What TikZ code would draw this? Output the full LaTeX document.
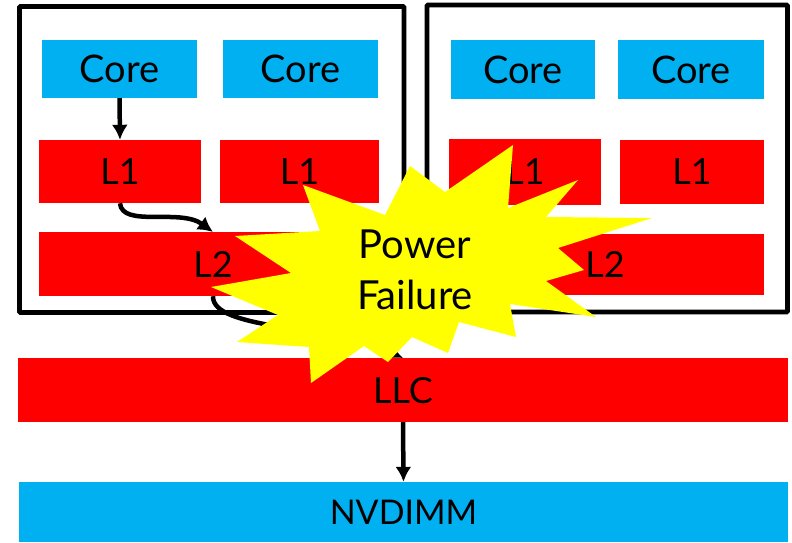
\documentclass[tikz,border=0pt]{standalone}
\usepackage{fontspec}
\setmainfont{Lato}
\usetikzlibrary{arrows.meta}

\begin{document}
\begin{tikzpicture}[x=1pt,y=-1pt,
corebox/.style={fill=cyan1,inner sep=0pt,text depth=0pt,font=\fontsize{38}{38}\selectfont},
cachebox/.style={fill=red,inner sep=0pt,text depth=0pt,font=\fontsize{36}{36}\selectfont},
chipbox/.style={line width=4.8pt,rounded corners=1pt},
flow/.style={line width=4.5pt,-{Latex[length=15pt,width=16pt]}}]

\definecolor{cyan1}{RGB}{0,176,240}
\definecolor{burst}{RGB}{255,255,0}

\useasboundingbox (0,0) rectangle (792,542);

\draw[chipbox] (19.5,6.5) rectangle (404,312.5);
\draw[chipbox] (427,5) rectangle (787.5,312);

\node[corebox,minimum width=155pt,minimum height=58pt] (core1) at (119.5,69) {Core};
\node[corebox,minimum width=155pt,minimum height=58pt] (core2) at (300.5,69) {Core};
\node[corebox,minimum width=144pt,minimum height=59pt] (core3) at (523,69.5) {Core};
\node[corebox,minimum width=146pt,minimum height=59pt] (core4) at (691,69.5) {Core};

\node[cachebox,minimum width=162pt,minimum height=63pt] (lonea) at (120,171.5) {L1};
\node[cachebox,minimum width=159pt,minimum height=63pt] (loneb) at (299.5,171.5) {L1};
\node[cachebox,minimum width=152pt,minimum height=66pt] (lonec) at (525,172) {L1};
\node[cachebox,minimum width=144pt,minimum height=64pt] (loned) at (692,172) {L1};

\node[cachebox,minimum width=348pt,minimum height=64pt] (ltwoa) at (213,264) {L2};
\node[cachebox,minimum width=318pt,minimum height=61pt] (ltwob) at (605,264.5) {L2};

\node[cachebox,minimum width=770pt,minimum height=64pt] (llc) at (403,390) {LLC};
\node[corebox,font=\fontsize{34}{34}\selectfont,minimum width=769pt,minimum height=60pt] (nvdimm) at (403.5,512) {NVDIMM};

\draw[flow] (core1.south) -- (lonea.north);
\draw[flow] (lonea.south) .. controls (122,228) and (180,208) .. (213,232);
\draw[flow] (ltwoa.south) .. controls (212,330) and (330,325) .. (403,358);
\draw[flow] (llc.south) -- (nvdimm.north);

\fill[burst] (303,185) -- (385,215) -- (410,166) -- (445,192) -- (513,145) -- (508,208)
  -- (578,180) -- (546,217) -- (652,218) -- (558,248) -- (584,270) -- (546,281)
  -- (596,317) -- (510,304) -- (516,337) -- (459,322) -- (448,353) -- (412,337)
  -- (388,362) -- (364,346) -- (311,383) -- (309,347) -- (237,342) -- (278,315)
  -- (211,287) -- (291,273) -- (235,236) -- (320,231) -- cycle;
\node[font=\fontsize{40}{51}\selectfont,align=center,inner sep=0pt] (failure) at (415,270) {Power\\Failure};

\end{tikzpicture}
\end{document}
